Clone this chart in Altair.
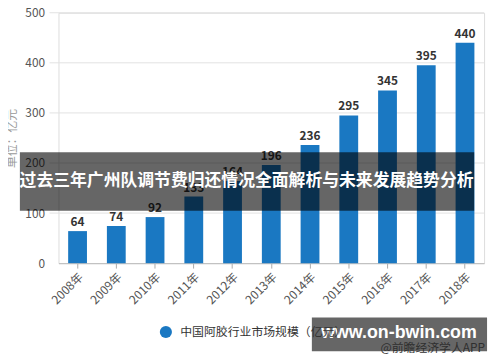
import altair as alt
import pandas as pd

years = ["2008年", "2009年", "2010年", "2011年", "2012年", "2013年",
         "2014年", "2015年", "2016年", "2017年", "2018年"]
values = [64, 74, 92, 133, 164, 196, 236, 295, 345, 395, 440]
series_name = "中国阿胶行业市场规模（亿元）"
y_ticks = [0, 100, 200, 300, 400, 500]
banner_title = ["过去三年广州队调节费归还情况全面解析与未来发展趋势分析"]
box_main = ["www.on-bwin.com"]
box_sub = ["@前瞻经济学人APP"]

FONT = "Noto Sans CJK SC"
BLUE = "#1a78c2"

df = pd.DataFrame({"year": years, "value": values, "series": series_name})
grid_df = pd.DataFrame({"tick": y_ticks[1:]})

W, H = 430, 253

base = alt.Chart(df)

grid = alt.Chart(grid_df).mark_rule(color="#e2e2e2").encode(
    y=alt.Y("tick:Q", scale=alt.Scale(domain=[0, 500], nice=False)),
    x=alt.value(-9), x2=alt.value(W))

bars = base.mark_bar(size=19).encode(
    x=alt.X("year:N", sort=years, title=None,
            scale=alt.Scale(paddingInner=0.515, paddingOuter=0.25),
            axis=alt.Axis(labelAngle=-45, labelFontSize=12, labelColor="#555",
                          labelFont=FONT, tickSize=5, tickColor="#aaa",
                          domainColor="#bbb", labelPadding=3, grid=False,
                          bandPosition=0.5)),
    y=alt.Y("value:Q", scale=alt.Scale(domain=[0, 500], nice=False),
            axis=alt.Axis(values=y_ticks, title="单位：亿元", titleColor="#999",
                          titleFont=FONT, titleFontSize=12, titleFontWeight="normal",
                          titleX=-47, titleY=H / 2, titleAngle=-90,
                          titleAlign="center", titleBaseline="middle",
                          labelFontSize=12, labelColor="#555", labelFont=FONT,
                          labelPadding=14, domain=False, ticks=False,
                          grid=False)),
    color=alt.Color("series:N", scale=alt.Scale(range=[BLUE]),
                    legend=alt.Legend(title=None, orient="none", legendX=102,
                                      legendY=316, symbolType="circle",
                                      symbolSize=150, labelFontSize=12,
                                      labelColor="#333", labelFont=FONT,
                                      labelOffset=8,
                                      labelLimit=400, symbolStrokeWidth=0)),
)

labels = base.mark_text(dy=-9, fontSize=12, fontWeight="bold", color="#333",
                        font=FONT).encode(
    x=alt.X("year:N", sort=years),
    y="value:Q",
    text="value:Q",
)

banner_df = pd.DataFrame({"t": banner_title})
banner = alt.Chart(banner_df).mark_rect(color="black", opacity=0.6).encode(
    x=alt.value(-39), x2=alt.value(420), y=alt.value(141), y2=alt.value(200))
banner_text = alt.Chart(banner_df).mark_text(
    color="white", fontSize=17, fontWeight="bold", font=FONT,
    align="center", baseline="middle").encode(
    x=alt.value(190), y=alt.value(170), text="t:N")

box_df = pd.DataFrame({"t": box_main, "s": box_sub})
box = alt.Chart(box_df).mark_rect(color="black", opacity=0.6).encode(
    x=alt.value(256), x2=alt.value(433), y=alt.value(308), y2=alt.value(342))
box_text = alt.Chart(box_df).mark_text(
    color="white", fontSize=18, fontWeight="bold", font="Liberation Sans",
    align="center", baseline="middle").encode(
    x=alt.value(344), y=alt.value(324), text="t:N")
box_sub_text = alt.Chart(box_df).mark_text(
    color="#2f2f2f", fontSize=12, font=FONT,
    align="right", baseline="middle").encode(
    x=alt.value(431), y=alt.value(339), text="s:N")

chart = alt.layer(grid, bars, labels, banner, banner_text, box, box_text, box_sub_text).properties(
    width=W, height=H,
    autosize=alt.AutoSizeParams(type="none"),
    padding={"left": 51, "top": 3, "right": 8, "bottom": 92},
).configure_view(stroke=None).configure(background="white")

chart.save("out.html", embed_options={"renderer": "svg", "actions": False})
